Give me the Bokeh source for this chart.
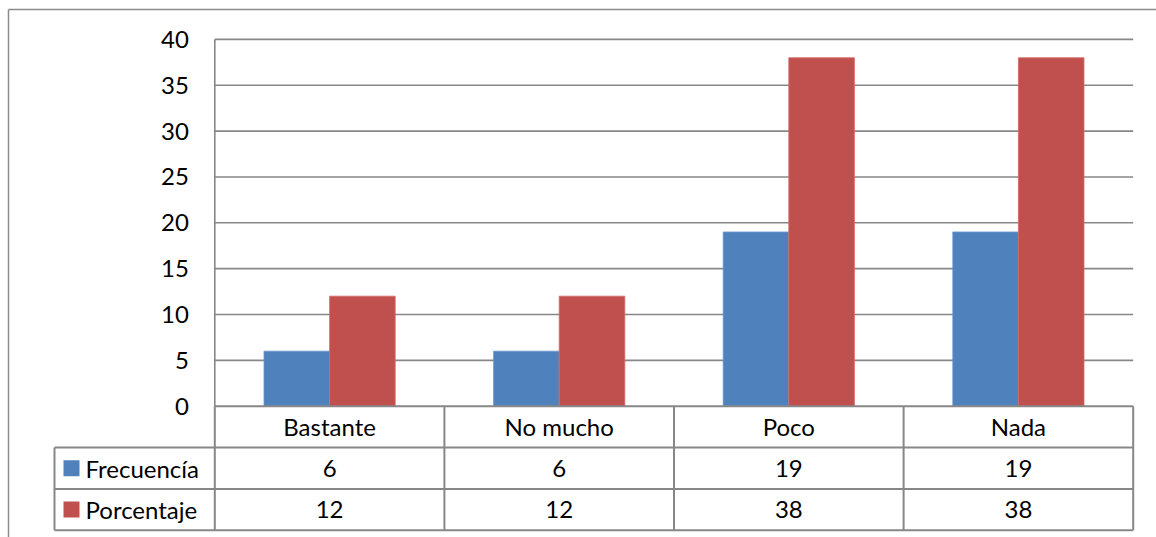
from bokeh.plotting import figure
from bokeh.models import Range1d, ColumnDataSource
from bokeh.core.properties import value
from bokeh.embed import file_html
from bokeh.resources import INLINE

# ---- data -------------------------------------------------------------
categories = ["Bastante", "No mucho", "Poco", "Nada"]
series_names = ["Frecuencía", "Porcentaje"]
frecuencia = [6, 6, 19, 19]
porcentaje = [12, 12, 38, 38]
y_ticks = [0, 5, 10, 15, 20, 25, 30, 35, 40]

# ---- style ------------------------------------------------------------
BLUE = "#4F81BD"
RED = "#C0504D"
LINE = "#878787"
FONT = "Lato"
FS = "24px"

# ---- geometry (canvas pixels) -----------------------------------------
W, H = 1156, 537
PL, PR, PT, PB = 214.3, 1132.7, 38.9, 405.7   # plot area
LEG_LEFT = 54.0                                # left edge of legend column
TBL_BOTTOM = 529.7                             # bottom edge of data table
ROW_H = 41.3                                   # data table row height
YMAX = 40

n = len(categories)
ux = (PR - PL) / n           # pixels per category
uy = (PB - PT) / YMAX        # pixels per value unit

x_range = Range1d(-PL / ux, n + (W - PR) / ux)
y_range = Range1d(-(H - PB) / uy, YMAX + PT / uy)

p = figure(width=W, height=H, x_range=x_range, y_range=y_range,
           x_axis_type=None, y_axis_type=None, toolbar_location=None,
           output_backend="svg", min_border=0)
p.outline_line_color = None
p.background_fill_color = "white"
p.border_fill_color = "white"

# extra ranges: raw pixel space for the frame, row space for the table
p.extra_x_ranges = {"px": Range1d(0, W)}
p.extra_y_ranges = {"px": Range1d(H, 0),
                    "tbl": Range1d(-(H - TBL_BOTTOM) / ROW_H, TBL_BOTTOM / ROW_H)}

# outer chart border
p.segment(x0=[8, 8], y0=[9, 9], x1=[8, W + 5], y1=[H + 5, 9],
          x_range_name="px", y_range_name="px", line_color="#8C8C8C", line_width=1.5)

# horizontal gridlines
grid_y = [t for t in y_ticks if t > 0]
p.segment(x0=[0] * len(grid_y), y0=grid_y, x1=[n] * len(grid_y), y1=grid_y,
          line_color=LINE, line_width=1.6)
# value axis line
p.segment(x0=[0], y0=[0], x1=[0], y1=[YMAX], line_color=LINE, line_width=1.6)

# y tick labels
p.text(x=[0] * len(y_ticks), y=y_ticks, text=[str(t) for t in y_ticks],
       x_offset=-26, text_align="right", text_baseline="middle",
       text_font=value(FONT), text_font_size=FS, text_color="#000000")

# clustered bars (gap width 150 % of a bar)
bar_w = 1 / (2 + 1.5)
gap = 1.5 * bar_w / 2
idx = list(range(n))
src = ColumnDataSource(dict(
    xb=[i + gap + bar_w / 2 for i in idx],
    xr=[i + gap + 1.5 * bar_w for i in idx],
    frec=frecuencia, porc=porcentaje))
p.vbar(x="xb", top="frec", bottom=0, width=bar_w, source=src,
       fill_color=BLUE, line_color="#6A95CC", line_width=0.8)
p.vbar(x="xr", top="porc", bottom=0, width=bar_w, source=src,
       fill_color=RED, line_color="#D46A67", line_width=0.8)

# ---- data table -------------------------------------------------------
leg = (PL - LEG_LEFT) / ux
tbl = dict(y_range_name="tbl", line_color=LINE, line_width=2)
# horizontal rules
p.segment(x0=[0], y0=[3], x1=[n], y1=[3], **tbl)
p.segment(x0=[-leg] * 3, y0=[2, 1, 0], x1=[n] * 3, y1=[2, 1, 0], **tbl)
# vertical rules
p.segment(x0=idx + [n], y0=[0] * (n + 1), x1=idx + [n], y1=[3] * (n + 1), **tbl)
p.segment(x0=[-leg], y0=[0], x1=[-leg], y1=[2], **tbl)

centers = [i + 0.5 for i in idx]
txt = dict(y_range_name="tbl", text_align="center", text_baseline="middle",
           text_font=value(FONT), text_font_size=FS, text_color="#000000")
p.text(x=centers, y=[2.5] * n, text=categories, **txt)
p.text(x=centers, y=[1.5] * n, text=[str(v) for v in frecuencia], **txt)
p.text(x=centers, y=[0.5] * n, text=[str(v) for v in porcentaje], **txt)

# legend keys inside the table
key_x = -leg + 17 / ux
p.scatter(x=[key_x, key_x], y=[1.5, 0.5], marker="square", size=16,
          y_range_name="tbl", fill_color=[BLUE, RED], line_color=None)
p.text(x=[-leg, -leg], y=[1.5, 0.5], text=series_names, x_offset=31,
       y_range_name="tbl", text_align="left", text_baseline="middle",
       text_font=value(FONT), text_font_size=FS, text_color="#000000")

open("out.html", "w").write(file_html(p, INLINE))
